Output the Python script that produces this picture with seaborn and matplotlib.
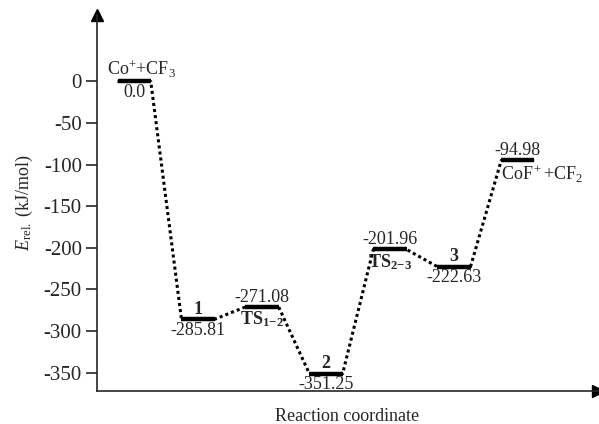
import matplotlib
matplotlib.use("Agg")
import matplotlib.pyplot as plt
import seaborn as sns
import pandas as pd

# niveis de energia (kJ/mol) ao longo da coordenada de reacao
species = ['Co+ + CF3', '1', 'TS1-2', '2', 'TS2-3', '3', 'CoF+ + CF2']
energies = [0.0, -285.81, -271.08, -351.25, -201.96, -222.63, -94.98]
value_labels = ['0.0', '-285.81', '-271.08', '-351.25', '-201.96', '-222.63', '-94.98']
name_labels = [r'Co$^{+}$+CF$_3$', r'$\mathbf{1}$', r'$\mathbf{TS_{1\!-\!2}}$', r'$\mathbf{2}$',
               r'$\mathbf{TS_{2\!-\!3}}$', r'$\mathbf{3}$', r'CoF$^+$+CF$_2$']
# nome acima (True) ou abaixo (False) do nivel
name_above = [True, True, False, True, False, True, False]

sns.set_style("ticks")
plt.rcParams['font.family'] = ['Liberation Serif', 'DejaVu Serif']
plt.rcParams['mathtext.fontset'] = 'custom'
plt.rcParams['mathtext.rm'] = 'Liberation Serif'
plt.rcParams['mathtext.it'] = 'Liberation Serif:italic'
plt.rcParams['mathtext.bf'] = 'Liberation Serif:bold'
plt.rcParams['axes.unicode_minus'] = False

w = 0.26
pos = list(range(len(species)))

# caminho pontilhado ligando os niveis
path_x, path_y = [], []
for p, e in zip(pos, energies):
    path_x += [p - w, p + w]
    path_y += [e, e]
df = pd.DataFrame({'x': path_x, 'y': path_y})

fig = plt.figure(figsize=(5.99, 4.24), dpi=100)
ax = fig.add_axes([0.162, 0.078, 0.836, 0.887])

sns.lineplot(data=df, x='x', y='y', sort=False, ax=ax, color='black',
             linestyle=(0, (1, 1)), linewidth=2.2)
ax.hlines(energies, [p - w for p in pos], [p + w for p in pos], color='black', linewidth=3.2)

fs = 13
for i, (p, e, v, n, up) in enumerate(zip(pos, energies, value_labels, name_labels, name_above)):
    top, bot = (n, v) if up else (v, n)
    dx_top, ha_top, dx_bot, ha_bot = 0, 'center', 0, 'center'
    if i == 0:
        dx_top = 5
    if i == len(pos) - 1:
        dx_bot, ha_bot = -w, 'left'
    ax.annotate(top, (p, e), xytext=(dx_top, 1), textcoords='offset points',
                ha=ha_top, va='bottom', fontsize=fs)
    ax.annotate(bot, (p + dx_bot, e), xytext=(0, -2), textcoords='offset points',
                ha=ha_bot, va='top', fontsize=fs)

ax.set_xlim(-0.58, 7.25)
ax.set_ylim(-372, 80)
ax.set_yticks([0, -50, -100, -150, -200, -250, -300, -350])
ax.set_xticks([])
ax.tick_params(axis='y', direction='out', length=8, width=1.2, labelsize=15, pad=3)
ax.set_xlabel('Reaction coordinate', fontsize=fs, labelpad=12)
ax.set_ylabel(r'$E_{\rm rel.}$ (kJ/mol)', fontsize=fs, labelpad=6)
sns.despine(ax=ax)
for s in ['left', 'bottom']:
    ax.spines[s].set_linewidth(1.2)
# setas nos eixos
ax.plot(1, 0, '>k', markersize=8, transform=ax.transAxes, clip_on=False)
ax.plot(0, 1, '^k', markersize=8, transform=ax.transAxes, clip_on=False)

fig.savefig('out.png', dpi=100)
